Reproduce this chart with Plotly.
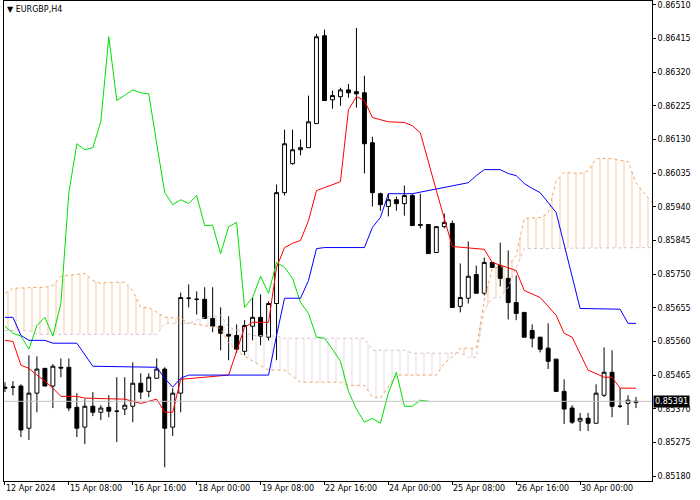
import numpy as np
import plotly.graph_objects as go

# candles, prices in points (1e-5)
opens = [85431, 85431, 85434, 85315, 85414, 85484, 85434, 85487, 85487, 85374,
         85318, 85377, 85360, 85374, 85363, 85369, 85377, 85442, 85419, 85456,
         85482, 85318, 85414, 85682, 85679, 85679, 85625, 85603, 85580, 85577,
         85532, 85603, 85628, 85572, 85667, 85980, 86062, 86101, 86107, 86175,
         86423, 86242, 86251, 86270, 86265, 86262, 86121, 85977, 85941, 85960,
         85949, 85972, 85890, 85890, 85811, 85884, 85893, 85659, 85682, 85749,
         85696, 85783, 85774, 85738, 85670, 85642, 85591, 85572, 85541, 85510,
         85419, 85372, 85335, 85343, 85329, 85408, 85473, 85377, 85385, 85388]
highs = [85445, 85448, 85439, 85521, 85518, 85484, 85496, 85512, 85512, 85414,
         85397, 85417, 85380, 85408, 85459, 85459, 85501, 85470, 85470, 85512,
         85487, 85428, 85698, 85721, 85701, 85713, 85713, 85656, 85631, 85608,
         85620, 85684, 85693, 85673, 86003, 86158, 86158, 86130, 86254, 86428,
         86440, 86268, 86276, 86287, 86445, 86310, 86138, 85980, 85977, 85969,
         86000, 85977, 85977, 85890, 85884, 85921, 85901, 85780, 85842, 85774,
         85797, 85783, 85839, 85817, 85746, 85642, 85608, 85572, 85611, 85510,
         85453, 85380, 85358, 85358, 85439, 85543, 85535, 85428, 85408, 85403]
lows = [85417, 85408, 85290, 85282, 85360, 85434, 85372, 85459, 85363, 85290,
        85270, 85349, 85338, 85346, 85276, 85352, 85332, 85397, 85403, 85456,
        85205, 85293, 85360, 85656, 85636, 85625, 85586, 85535, 85507, 85527,
        85521, 85563, 85549, 85563, 85507, 85972, 86059, 86085, 86107, 86175,
        86240, 86217, 86225, 86248, 86220, 86034, 85941, 85929, 85913, 85929,
        85915, 85887, 85879, 85808, 85811, 85879, 85656, 85642, 85667, 85696,
        85690, 85769, 85715, 85622, 85620, 85572, 85543, 85529, 85482, 85417,
        85327, 85327, 85307, 85307, 85329, 85403, 85346, 85372, 85324, 85372]
closes = [85428, 85431, 85310, 85414, 85482, 85434, 85490, 85485, 85372, 85315,
          85377, 85360, 85372, 85363, 85363, 85380, 85442, 85417, 85459, 85482,
          85315, 85414, 85684, 85682, 85679, 85625, 85603, 85583, 85575, 85538,
          85605, 85628, 85575, 85667, 85980, 86118, 86101, 86107, 86180, 86420,
          86240, 86254, 86270, 86262, 86259, 86118, 85980, 85946, 85960, 85949,
          85972, 85887, 85888, 85808, 85884, 85896, 85656, 85684, 85744, 85696,
          85783, 85769, 85738, 85670, 85639, 85572, 85569, 85538, 85504, 85419,
          85369, 85332, 85343, 85329, 85414, 85473, 85377, 85377, 85394, 85391]

# ichimoku lines (bar index, points)
tenkan_idx = [0, 1, 2, 3, 4, 5, 6, 7, 9, 10, 15, 17, 19, 20, 21, 22, 28, 30, 31, 33,
              34, 35, 36, 37, 38, 39, 40, 42, 43, 44, 45, 46, 48, 50, 51, 52, 54, 56, 60, 61,
              64, 65, 67, 69, 70, 71, 73, 75, 76, 77, 79]
tenkan = [85563, 85560, 85493, 85484, 85465, 85448, 85428, 85405, 85405, 85400,
          85397, 85385, 85397, 85360, 85360, 85453, 85465, 85600, 85614, 85614,
          85769, 85825, 85837, 85845, 85901, 85986, 85994, 86011, 86214, 86251,
          86240, 86192, 86180, 86178, 86169, 86149, 85986, 85828, 85820, 85783,
          85760, 85704, 85684, 85634, 85583, 85572, 85479, 85459, 85459, 85428, 85428]
kijun_idx = [0, 1, 2, 3, 5, 6, 9, 11, 19, 20, 21, 22, 23, 33, 34, 35, 37, 38, 39, 40,
             45, 46, 47, 48, 51, 53, 55, 58, 59, 60, 62, 63, 64, 65, 66, 67, 69, 72, 77, 78, 79]
kijun = [85628, 85628, 85577, 85563, 85563, 85555, 85555, 85490, 85487, 85456,
         85431, 85456, 85465, 85465, 85577, 85682, 85682, 85732, 85822, 85825,
         85825, 85882, 85910, 85977, 85977, 85986, 85994, 86008, 86028, 86045,
         86045, 86034, 86028, 86006, 85992, 85980, 85924, 85653, 85651, 85611, 85611]
span_a_idx = [0, 1, 5, 6, 7, 10, 11, 12, 13, 15, 16, 17, 18, 19, 20, 22, 23, 25, 27, 28,
              29, 30, 32, 33, 35, 37, 42, 43, 45, 46, 47, 48, 49, 54, 55, 56.5, 57, 59, 60, 61,
              63, 64, 65, 67, 68, 69, 70, 72, 73, 74, 76, 77, 78, 79, 81]
span_a = [85696, 85710, 85713, 85718, 85744, 85752, 85732, 85724, 85727, 85727,
          85704, 85656, 85656, 85642, 85628, 85625, 85611, 85605, 85597, 85555,
          85535, 85518, 85493, 85479, 85479, 85445, 85445, 85436, 85436, 85403,
          85400, 85431, 85465, 85465, 85498, 85527, 85541, 85541, 85676, 85766,
          85774, 85803, 85907, 85910, 85921, 86014, 86037, 86034, 86042, 86076,
          86076, 86071, 86068, 86008, 85952]
span_b_idx = [0, 3, 4, 19, 20, 23, 24, 25, 27, 28, 31, 34, 35, 45, 46, 50, 51, 56.5, 57, 58,
              59, 60, 61, 62, 63, 65, 81]
span_b = [85591, 85591, 85580, 85580, 85611, 85611, 85620, 85628, 85634, 85600,
          85577, 85575, 85569, 85569, 85535, 85535, 85527, 85527, 85527, 85515,
          85515, 85648, 85682, 85684, 85713, 85822, 85825]
chikou_shift = 26

tick_idx = [0, 8, 16, 24, 32, 40, 48, 56, 64, 72]
tick_text = ["12 Apr 2024", "15 Apr 08:00", "16 Apr 16:00", "18 Apr 00:00", "19 Apr 08:00",
             "22 Apr 16:00", "24 Apr 00:00", "25 Apr 08:00", "26 Apr 16:00", "30 Apr 00:00"]
price_ticks = [0.85180, 0.85275, 0.85370, 0.85465, 0.85560, 0.85655, 0.85750, 0.85845,
               0.85940, 0.86035, 0.86130, 0.86225, 0.86320, 0.86415, 0.86510]
last_price = 0.85391

ORANGE = "#F4A460"
THISTLE = "#D8BFD8"
FONT = "DejaVu Sans"


def p(a):
    return np.array(a) / 1e5


idx = list(range(len(closes)))
fig = go.Figure()

# kumo hatching
for lo, hi, col in [(0, 23, ORANGE), (23, 56.5, THISTLE), (56.5, 81, ORANGE)]:
    ax = [i for i in span_a_idx if lo <= i <= hi]
    ay = [v for i, v in zip(span_a_idx, span_a) if lo <= i <= hi]
    bx = [i for i in span_b_idx if lo <= i <= hi]
    by = [v for i, v in zip(span_b_idx, span_b) if lo <= i <= hi]
    fig.add_trace(go.Scatter(
        x=ax + bx[::-1], y=list(p(ay)) + list(p(by[::-1])),
        fill="toself", mode="lines", line=dict(width=0),
        fillcolor="rgba(0,0,0,0)",
        fillpattern=dict(shape="|", fgcolor=col, bgcolor="rgba(0,0,0,0)",
                         size=8, solidity=0.15),
        hoverinfo="skip", showlegend=False))

fig.add_trace(go.Scatter(x=span_a_idx, y=p(span_a), mode="lines",
                         line=dict(color=ORANGE, width=1, dash="dot"), showlegend=False))
fig.add_trace(go.Scatter(x=span_b_idx, y=p(span_b), mode="lines",
                         line=dict(color=THISTLE, width=1, dash="dot"), showlegend=False))

fig.add_hline(y=last_price, line=dict(color="#C0C0C0", width=1))

fig.add_trace(go.Scatter(x=idx[:len(closes) - chikou_shift], y=p(closes[chikou_shift:]),
                         mode="lines", line=dict(color="#00E000", width=1), showlegend=False))
fig.add_trace(go.Scatter(x=tenkan_idx, y=p(tenkan), mode="lines",
                         line=dict(color="#FF0000", width=1), showlegend=False))
fig.add_trace(go.Scatter(x=kijun_idx, y=p(kijun), mode="lines",
                         line=dict(color="#0000FF", width=1), showlegend=False))

fig.add_trace(go.Candlestick(
    x=idx, open=p(opens), high=p(highs), low=p(lows), close=p(closes),
    increasing=dict(fillcolor="white", line=dict(color="black", width=1)),
    decreasing=dict(fillcolor="black", line=dict(color="black", width=1)),
    whiskerwidth=0, showlegend=False))

for i, t in zip(tick_idx, tick_text):
    fig.add_annotation(x=i, y=0, xref="x", yref="paper", text=t, showarrow=False,
                       xanchor="left", yanchor="top", xshift=-1, yshift=-1,
                       font=dict(family=FONT, size=8, color="black"))

fig.add_annotation(x=1, y=last_price, xref="paper", yref="y", text=f"{last_price:.5f}",
                   showarrow=False, xanchor="left", xshift=1, bgcolor="black",
                   font=dict(family=FONT, size=8, color="white"), borderpad=1)
fig.add_annotation(x=0, y=1, xref="paper", yref="paper", text="▼ EURGBP,H4",
                   showarrow=False, xanchor="left", yanchor="top", xshift=1, yshift=-2,
                   font=dict(family=FONT, size=8, color="black"))

fig.update_layout(
    width=700, height=500,
    paper_bgcolor="white", plot_bgcolor="white",
    margin=dict(l=4, r=48, t=1, b=19, autoexpand=False),
    font=dict(family=FONT, size=8, color="black"),
    showlegend=False,
    xaxis=dict(range=[-0.12, 81.0], rangeslider=dict(visible=False), automargin=False,
               showgrid=False, zeroline=False, showline=True, linecolor="black",
               mirror=True, tickvals=tick_idx, ticktext=[""] * len(tick_idx),
               ticks="outside", ticklen=3, tickcolor="black"),
    yaxis=dict(range=[0.85166, 0.86521], side="right", tickvals=price_ticks, automargin=False,
               tickformat=".5f", showgrid=False, zeroline=False, showline=True,
               linecolor="black", mirror=True, ticks="outside", ticklen=3,
               tickcolor="black", tickfont=dict(family=FONT, size=8)),
)

fig.write_html("out.html", config={"displayModeBar": False},
               post_script="document.body.style.margin='0';")
